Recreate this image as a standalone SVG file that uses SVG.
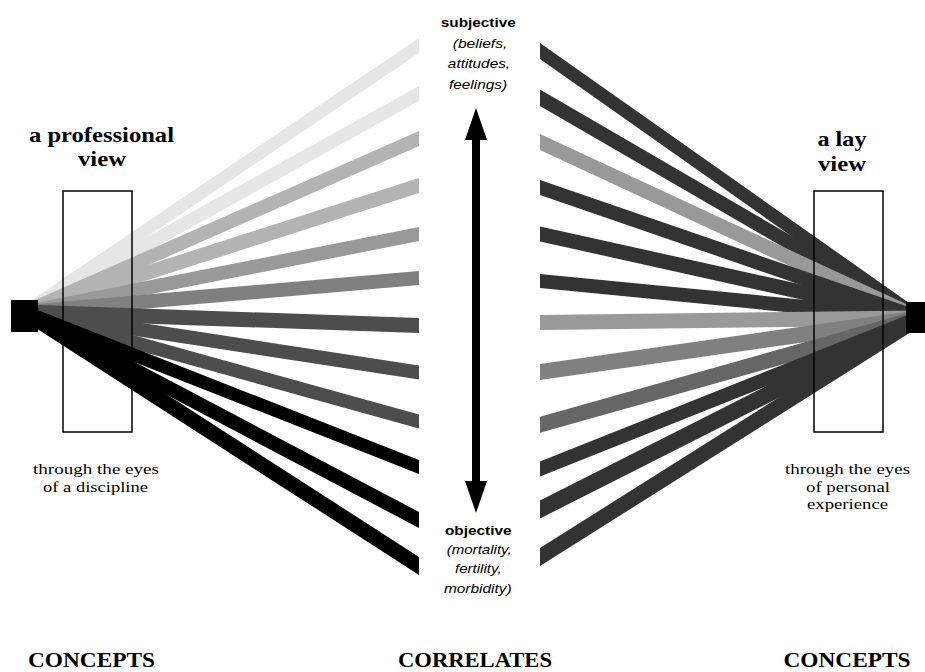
<svg xmlns="http://www.w3.org/2000/svg" width="925" height="672" viewBox="0 0 925 672">
<style>
.c1{fill:#e6e6e6}.c2{fill:#b3b3b3}.c3{fill:#999999}.c4{fill:#808080}.c5{fill:#666666}.c6{fill:#4d4d4d}.c7{fill:#333333}.c8{fill:#000000}
.frame{fill:none;stroke:#000;stroke-width:1.5}
.src{fill:#000}
.title{font-family:"Liberation Serif","Times New Roman",serif;font-weight:bold;font-size:21px;fill:#000;text-anchor:middle}
.note{font-family:"Liberation Serif","Times New Roman",serif;font-size:15.5px;fill:#000;text-anchor:middle}
.sb{font-family:"Liberation Sans",Arial,sans-serif;font-weight:bold;font-size:13px;fill:#000;text-anchor:middle}
.si{font-family:"Liberation Sans",Arial,sans-serif;font-style:italic;font-size:13px;fill:#000;text-anchor:middle}
.foot{font-family:"Liberation Serif","Times New Roman",serif;font-weight:bold;font-size:20px;fill:#000;text-anchor:middle}
</style>
<rect width="925" height="672" fill="#fff"/>
<g id="connectors">
 <g id="beams-left">
  <polygon class="c1" points="25,304.5 419,38 419,53 25,319.5"/>
  <polygon class="c1" points="25,304.5 419,86 419,101 25,319.5"/>
  <polygon class="c2" points="25,304.5 419,131 419,146 25,319.5"/>
  <polygon class="c2" points="25,304.5 419,178 419,193 25,319.5"/>
  <polygon class="c3" points="25,305 419,227 419,241 25,319"/>
  <polygon class="c4" points="25,305 419,271 419,285 25,319"/>
  <polygon class="c6" points="25,304.5 419,318 419,333 25,319.5"/>
  <polygon class="c6" points="25,305 419,365.5 419,379.5 25,319"/>
  <polygon class="c6" points="25,305 419,414.5 419,428.5 25,319"/>
  <polygon class="c8" points="25,305 419,460 419,474 25,319"/>
  <polygon class="c8" points="25,304 419,512 419,528 25,320"/>
  <polygon class="c8" points="25,303 419,557 419,575 25,321"/>
 </g>
 <g id="beams-right">
  <polygon class="c7" points="919,310 540,43 540,59 919,326"/>
  <polygon class="c7" points="919,310 540,89.5 540,106 919,326"/>
  <polygon class="c3" points="919,310 540,134 540,150 919,326"/>
  <polygon class="c7" points="919,310.5 540,180 540,195 919,325.5"/>
  <polygon class="c7" points="919,310.5 540,226.5 540,241.5 919,325.5"/>
  <polygon class="c7" points="919,311 540,274 540,288 919,325"/>
  <polygon class="c3" points="919,310.5 540,315 540,330 919,325.5"/>
  <polygon class="c4" points="919,310 540,364 540,380 919,326"/>
  <polygon class="c5" points="919,310 540,416.7 540,432.7 919,326"/>
  <polygon class="c7" points="919,310.5 540,461.5 540,476.5 919,325.5"/>
  <polygon class="c7" points="919,309 540,500.5 540,518.5 919,327"/>
  <polygon class="c7" points="919,309 540,548 540,566 919,327"/>
 </g>
 <g id="scale-arrow">
  <line x1="476" y1="138" x2="476" y2="483" stroke="#000" stroke-width="8"/>
  <polygon points="476,108 465,140 487,140" fill="#000"/>
  <polygon points="476,513 465,481 487,481" fill="#000"/>
 </g>
</g>
<g id="professional-view">
 <rect class="frame" x="63" y="191" width="69" height="241"/>
 <rect class="src" x="11" y="300" width="27" height="32"/>
 <text class="title" x="101.5" y="141.5" textLength="145" lengthAdjust="spacingAndGlyphs">a professional</text>
 <text class="title" x="102" y="165.5" textLength="48" lengthAdjust="spacingAndGlyphs">view</text>
 <text class="note" x="96" y="474" textLength="126" lengthAdjust="spacingAndGlyphs">through the eyes</text>
 <text class="note" x="95.5" y="491.7" textLength="105" lengthAdjust="spacingAndGlyphs">of a discipline</text>
</g>
<g id="lay-view">
 <rect class="frame" x="814" y="191" width="69" height="241"/>
 <rect class="src" x="906" y="302" width="27" height="31"/>
 <text class="title" x="842" y="146" textLength="49" lengthAdjust="spacingAndGlyphs">a lay</text>
 <text class="title" x="842" y="170.5" textLength="48" lengthAdjust="spacingAndGlyphs">view</text>
 <text class="note" x="847.5" y="474" textLength="125" lengthAdjust="spacingAndGlyphs">through the eyes</text>
 <text class="note" x="848" y="491.7" textLength="84" lengthAdjust="spacingAndGlyphs">of personal</text>
 <text class="note" x="847.5" y="509" textLength="81" lengthAdjust="spacingAndGlyphs">experience</text>
</g>
<g id="subjective">
 <text class="sb" x="478.3" y="27" textLength="75" lengthAdjust="spacingAndGlyphs">subjective</text>
 <text class="si" x="480" y="47.7" textLength="54.6" lengthAdjust="spacingAndGlyphs">(beliefs,</text>
 <text class="si" x="479" y="68.3" textLength="62.3" lengthAdjust="spacingAndGlyphs">attitudes,</text>
 <text class="si" x="478" y="88.5" textLength="58" lengthAdjust="spacingAndGlyphs">feelings)</text>
</g>
<g id="objective">
 <text class="sb" x="478.3" y="535" textLength="66.7" lengthAdjust="spacingAndGlyphs">objective</text>
 <text class="si" x="479.2" y="554.3" textLength="65" lengthAdjust="spacingAndGlyphs">(mortality,</text>
 <text class="si" x="478.3" y="573.3" textLength="46.7" lengthAdjust="spacingAndGlyphs">fertility,</text>
 <text class="si" x="477.8" y="592.7" textLength="67.7" lengthAdjust="spacingAndGlyphs">morbidity)</text>
</g>
<g id="footer">
 <text class="foot" x="91.5" y="667" textLength="127" lengthAdjust="spacingAndGlyphs">CONCEPTS</text>
 <text class="foot" x="475" y="667" textLength="154" lengthAdjust="spacingAndGlyphs">CORRELATES</text>
 <text class="foot" x="847" y="667" textLength="127" lengthAdjust="spacingAndGlyphs">CONCEPTS</text>
</g>
</svg>
